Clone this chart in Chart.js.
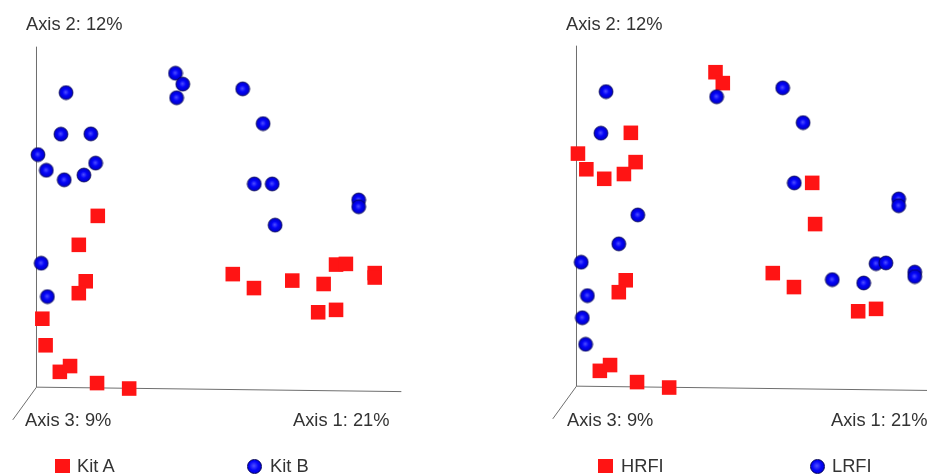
<!DOCTYPE html>
<html>
<head>
<meta charset="utf-8">
<script src="https://cdn.jsdelivr.net/npm/chart.js@4/dist/chart.umd.min.js"></script>
<style>
html,body{margin:0;padding:0;background:#fff;}
body{width:927px;height:474px;overflow:hidden;position:relative;font-family:"Liberation Sans",Arial,sans-serif;}
canvas{position:absolute;}
.lbl{position:absolute;font-size:18.3px;line-height:18.3px;color:#333;white-space:nowrap;}
.sq{position:absolute;width:15px;height:14px;background:#ff1414;}
.ball{position:absolute;width:15px;height:15px;border-radius:50%;box-sizing:border-box;border:1px solid #00005a;
background:radial-gradient(circle at 45% 45%,#5050ff 0%,#0505f8 45%,#0000d0 85%,#000090 100%);}
</style>
</head>
<body>
<canvas id="c1" width="540" height="474" style="left:0;top:0;width:540px;height:474px"></canvas>
<canvas id="c2" width="540" height="474" style="left:540px;top:-1px;width:540px;height:474px"></canvas>

<div class="lbl" style="left:26px;top:15px">Axis 2: 12%</div>
<div class="lbl" style="left:25px;top:411px">Axis 3: 9%</div>
<div class="lbl" style="left:293px;top:411px">Axis 1: 21%</div>
<div class="sq" style="left:55px;top:459px"></div>
<div class="lbl" style="left:77px;top:457px">Kit A</div>
<div class="ball" style="left:247px;top:459px"></div>
<div class="lbl" style="left:270px;top:457px">Kit B</div>

<div class="lbl" style="left:566px;top:15px">Axis 2: 12%</div>
<div class="lbl" style="left:567px;top:411px">Axis 3: 9%</div>
<div class="lbl" style="left:831px;top:411px">Axis 1: 21%</div>
<div class="sq" style="left:598px;top:459px"></div>
<div class="lbl" style="left:621px;top:457px">HRFI</div>
<div class="ball" style="left:810px;top:459px"></div>
<div class="lbl" style="left:832px;top:457px">LRFI</div>

<script>
const el=id=>document.getElementById(id);

// ordination scores (same samples in both panels)
const axis1=[0.81,3.81,4.01,3.84,5.65,6.21,0.67,1.49,0.04,0.27,0.76,1.30,1.62,5.97,6.46,8.83,8.83,6.54,
1.68,1.16,0.13,0.30,1.35,1.16,0.16,0.25,0.64,0.92,1.66,2.54,5.38,5.96,7.01,7.87,8.21,8.48,9.27,9.27,7.72,8.21];
const axis2=[8.65,9.22,8.90,8.50,8.76,7.74,7.43,7.44,6.83,6.37,6.09,6.23,6.58,5.97,5.97,5.50,5.30,4.76,
5.03,4.18,3.64,2.66,3.11,2.76,2.01,1.23,0.45,0.62,0.12,-0.04,3.32,2.91,3.13,3.03,3.60,3.62,3.35,3.22,2.20,2.27];

// groupings
const kit=["B","B","B","B","B","B","B","B","B","B","B","B","B","B","B","B","B","B",
"A","A","B","B","A","A","A","A","A","A","A","A","A","A","A","A","A","A","A","A","A","A"];
const rfi=["L","H","H","L","L","L","L","H","H","H","H","H","H","L","H","L","L","H",
"L","L","L","L","H","H","L","L","H","H","H","H","H","H","L","L","L","L","L","L","H","H"];

// drawn axes: Axis 2 (up), Axis 1 (right), Axis 3 (toward viewer)
const axUp=[{x:0,y:0},{x:0,y:10}];
const axRight=[{x:0,y:0},{x:10.0,y:-0.13}];
const axDepth=[{x:0,y:0},{x:-0.65,y:-0.96}];

// blue sphere sprite
function makeBall(){
let c=document.createElement("canvas");c.width=16;c.height=16;
let g=c.getContext("2d");
let gr=g.createRadialGradient(7.6,7.6,0,8,8,7.2);
gr.addColorStop(0,"#5050ff");gr.addColorStop(0.45,"#0505f8");gr.addColorStop(0.85,"#0000d0");gr.addColorStop(1,"#000090");
g.beginPath();g.arc(8,8,7,0,Math.PI*2);g.fillStyle=gr;g.fill();
g.lineWidth=0.8;g.strokeStyle="rgba(0,0,70,0.85)";g.stroke();
return c;
}
const ball=makeBall();

function pts(groups,key){
let out=[];
for(let i=0;i<axis1.length;i++) if(groups[i]===key) out.push({x:axis1[i],y:axis2[i]});
return out;
}

function axisLine(data){
return {type:"line",data:data,borderColor:"#6e6e6e",borderWidth:1,pointRadius:0,fill:false,tension:0,clip:false};
}

function draw(id,groups,redKey,blueKey){
new Chart(el(id),{
type:"scatter",
data:{datasets:[
{data:pts(groups,blueKey),pointStyle:ball,pointRadius:7,clip:false},
{data:pts(groups,redKey),pointStyle:"rect",pointRadius:10.3,backgroundColor:"#ff1414",borderWidth:0,clip:false},
axisLine(axUp),axisLine(axRight),axisLine(axDepth)
]},
options:{
responsive:false,animation:false,devicePixelRatio:1,
layout:{padding:0,autoPadding:false},
plugins:{legend:{display:false},tooltip:{enabled:false}},
scales:{
x:{type:"linear",display:false,min:-1,max:13.8},
y:{type:"linear",display:false,min:-2.55,max:11.37}
}
}
});
}

draw("c1",kit,"A","B");
draw("c2",rfi,"H","L");
</script>
</body>
</html>
